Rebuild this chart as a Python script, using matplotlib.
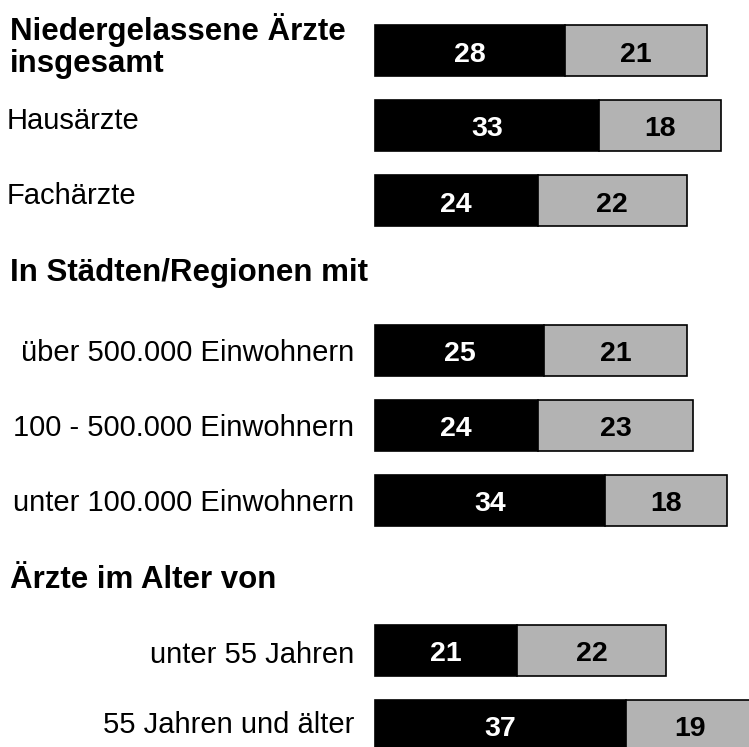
import matplotlib.pyplot as plt

plt.rcParams['font.family'] = ['Liberation Sans', 'DejaVu Sans']

labels = ['Niedergelassene Ärzte\ninsgesamt', 'Hausärzte', 'Fachärzte',
          'über 500.000 Einwohnern', '100 - 500.000 Einwohnern', 'unter 100.000 Einwohnern',
          'unter 55 Jahren', '55 Jahren und älter']
black = [28, 33, 24, 25, 24, 34, 21, 37]
grey = [21, 18, 22, 21, 23, 18, 22, 19]
headers = ['In Städten/Regionen mit', 'Ärzte im Alter von']

rows = [0, 1, 2, 4, 5, 6, 8, 9]
header_rows = [3, 7]

W, H = 749, 747
fig = plt.figure(figsize=(W / 100, H / 100), dpi=100)
ax = fig.add_axes([0, 0, 1, 1])
ax.axis('off')

# 6.776 px per unit, bars start at x=375px; rows 75px apart, first centre at 50.5px
sx = 6.776
ax.set_xlim(-375 / sx, (W - 375) / sx)
ax.set_ylim((H - 50.5) / 75, -50.5 / 75)

ax.barh(rows, black, height=0.69, color='black', edgecolor='black', linewidth=1.2)
ax.barh(rows, grey, left=black, height=0.69, color='#b3b3b3', edgecolor='black', linewidth=1.2)

for r, b, g in zip(rows, black, grey):
    ax.text(b / 2, r + 11 / 75, str(b), color='white', fontsize=20.5, fontweight='bold',
            ha='center', va='baseline')
    ax.text(b + g / 2, r + 11 / 75, str(g), color='black', fontsize=20.5, fontweight='bold',
            ha='center', va='baseline')

tr = ax.get_yaxis_transform()

# labels on the left
for i, (r, lab) in enumerate(zip(rows, labels)):
    if i == 0:
        for k, line in enumerate(lab.split('\n')):
            ax.text(10 / W, r + (-10.5 + 32 * k) / 75, line, transform=tr,
                    fontsize=22.5, fontweight='bold', ha='left', va='baseline')
    elif i < 3:
        ax.text(7 / W, r + 3.5 / 75, lab, transform=tr,
                fontsize=21, ha='left', va='baseline')
    else:
        off = 10.5 if i < 6 else (12.5 if i == 6 else 8)
        ax.text(354 / W, r + off / 75, lab, transform=tr,
                fontsize=21, ha='right', va='baseline')

for r, h, off in zip(header_rows, headers, [6, 13]):
    ax.text(10 / W, r + off / 75, h, transform=tr,
            fontsize=22.5, fontweight='bold', ha='left', va='baseline')

fig.savefig('out.png', dpi=100)
